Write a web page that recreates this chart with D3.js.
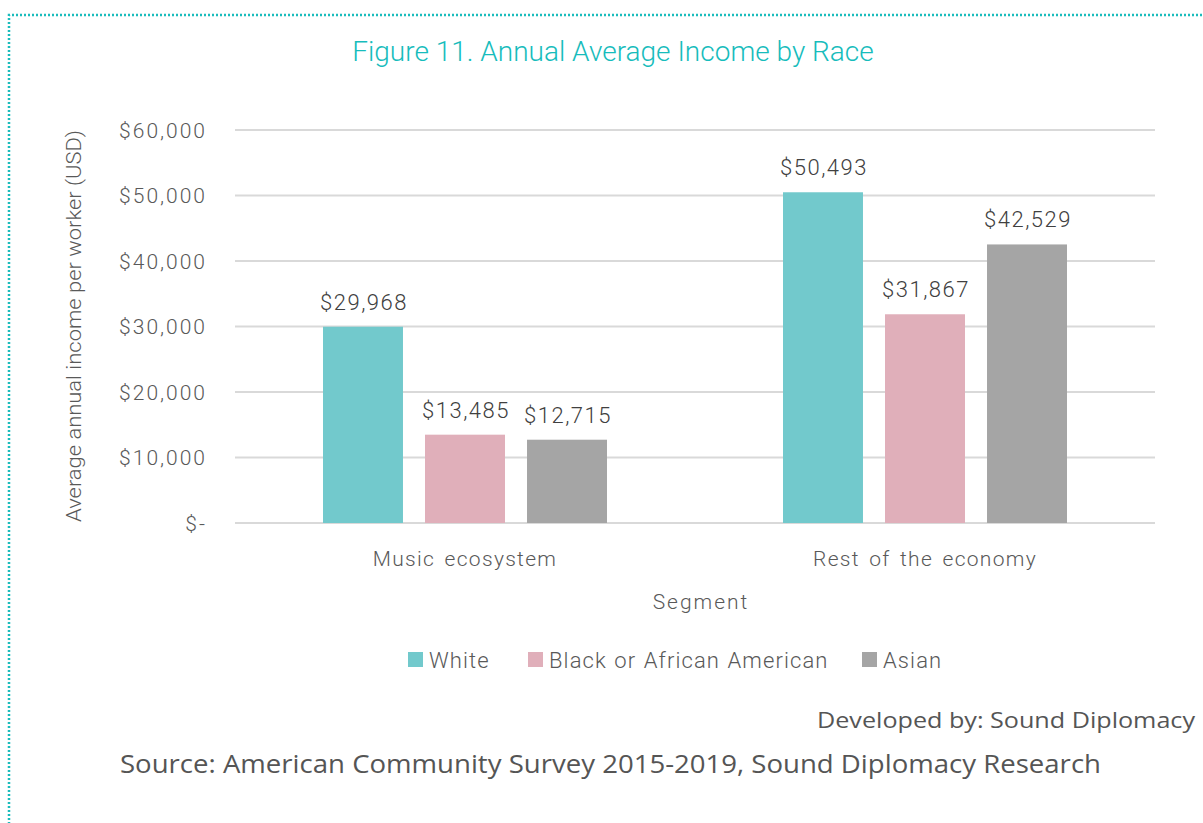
<!DOCTYPE html>
<html><head><meta charset="utf-8">
<script src="https://cdn.jsdelivr.net/npm/d3@7"></script>
<style>body{margin:0;background:#fff}svg{display:block}</style>
</head><body>
<script>
const categories = ["Music ecosystem", "Rest of the economy"];
const seriesNames = ["White", "Black or African American", "Asian"];
const white = [29968, 50493];
const black = [13485, 31867];
const asian = [12715, 42529];
const yTicks = [0, 10000, 20000, 30000, 40000, 50000, 60000];
const tickLabels = ["$-", "$10,000", "$20,000", "$30,000", "$40,000", "$50,000", "$60,000"];
const colors = ["#72c9cc", "#e0afba", "#a5a5a5"];

const W = 1203, H = 823;
const svg = d3.select("body").append("svg").attr("width", W).attr("height", H);
const font = "Roboto, 'DejaVu Sans', sans-serif";

// dotted border
svg.append("path").attr("d", `M9,${H+5} L9,15 L${W+5},15`)
  .attr("fill", "none").attr("stroke", "#1bbcbc").attr("stroke-width", 2.5)
  .attr("stroke-dasharray", "2,2");

svg.append("text").attr("x", 613).attr("y", 61).attr("text-anchor", "middle")
  .attr("font-family", font).attr("font-size", 28).attr("font-weight", 300)
  .attr("fill", "#17bcbc").text("Figure 11. Annual Average Income by Race");

const x0 = d3.scaleBand().domain(categories).range([235, 1155]);
const y = d3.scaleLinear().domain([0, 60000]).range([523, 130]);
const x1 = d3.scaleBand().domain(seriesNames).range([0, 284]).paddingInner(0.216);

const g = svg.append("g");
g.selectAll("line.grid").data(yTicks).enter().append("line")
  .attr("x1", 235).attr("x2", 1155).attr("y1", d => y(d)).attr("y2", d => y(d))
  .attr("stroke", "#d9d9d9").attr("stroke-width", 2);

const yAxis = d3.axisLeft(y).tickValues(yTicks).tickFormat((d, i) => tickLabels[i]).tickSize(0).tickPadding(0);
const ya = svg.append("g").attr("transform", "translate(207,0)").call(yAxis);
ya.select(".domain").remove();
ya.selectAll("text").attr("font-family", font).attr("font-size", 21).attr("font-weight", 300)
  .attr("fill", "#595959").attr("dy", "0.35em").attr("letter-spacing", "2px");

const data = categories.map((c, i) => ({cat: c, vals: [white[i], black[i], asian[i]]}));
const groups = svg.selectAll("g.grp").data(data).enter().append("g")
  .attr("transform", d => `translate(${x0(d.cat) + x0.bandwidth()/2 - 142},0)`);
groups.selectAll("rect").data(d => d.vals.map((v, j) => ({v, s: seriesNames[j], j})))
  .enter().append("rect")
  .attr("x", d => x1(d.s)).attr("width", x1.bandwidth())
  .attr("y", d => y(d.v)).attr("height", d => y(0) - y(d.v))
  .attr("fill", d => colors[d.j]);
groups.selectAll("text").data(d => d.vals.map((v, j) => ({v, s: seriesNames[j], j})))
  .enter().append("text")
  .attr("x", d => x1(d.s) + x1.bandwidth()/2 + 1).attr("y", d => y(d.v) - 17)
  .attr("text-anchor", "middle").attr("font-family", font).attr("font-size", 22).attr("font-weight", 300)
  .attr("letter-spacing", "1.5px")
  .attr("fill", "#404040").text(d => "$" + d3.format(",")(d.v));

const xAxis = d3.axisBottom(x0).tickSize(0).tickPadding(0);
const xa = svg.append("g").attr("transform", "translate(0,566)").call(xAxis);
xa.select(".domain").remove();
xa.selectAll("text").attr("font-family", font).attr("font-size", 21).attr("font-weight", 300)
  .attr("fill", "#595959").attr("dy", 0).attr("letter-spacing", "1.3px").attr("word-spacing", "3px");

svg.append("text").attr("x", 701).attr("y", 609).attr("text-anchor", "middle")
  .attr("font-family", font).attr("font-size", 21).attr("font-weight", 300).attr("fill", "#595959")
  .attr("letter-spacing", "2px").text("Segment");

svg.append("text").attr("transform", "translate(81,326) rotate(-90)").attr("text-anchor", "middle")
  .attr("font-family", font).attr("font-size", 21).attr("font-weight", 300).attr("fill", "#595959")
  .attr("textLength", 392).attr("lengthAdjust", "spacingAndGlyphs")
  .text("Average annual income per worker (USD)");

const legX = [408, 528, 862];
const leg = svg.selectAll("g.leg").data(seriesNames).enter().append("g")
  .attr("transform", (d, i) => `translate(${legX[i]},660)`);
leg.append("rect").attr("x", 0).attr("y", -8).attr("width", 15).attr("height", 15)
  .attr("fill", (d, i) => colors[i]);
leg.append("text").attr("x", 21).attr("y", 8).attr("font-family", font).attr("font-size", 22)
  .attr("font-weight", 300).attr("fill", "#595959").attr("letter-spacing", "1.1px").attr("word-spacing", "1px")
  .text(d => d);

svg.append("text").attr("x", 1195).attr("y", 728).attr("text-anchor", "end")
  .attr("font-family", "'Open Sans', Lato, sans-serif").attr("font-size", 21).attr("fill", "#555")
  .attr("textLength", 378).attr("lengthAdjust", "spacingAndGlyphs")
  .text("Developed by: Sound Diplomacy");
svg.append("text").attr("x", 120).attr("y", 773)
  .attr("font-family", "'Open Sans', Lato, sans-serif").attr("font-size", 25).attr("fill", "#555")
  .attr("textLength", 981).attr("lengthAdjust", "spacingAndGlyphs")
  .text("Source: American Community Survey 2015-2019, Sound Diplomacy Research");
</script>
</body></html>
